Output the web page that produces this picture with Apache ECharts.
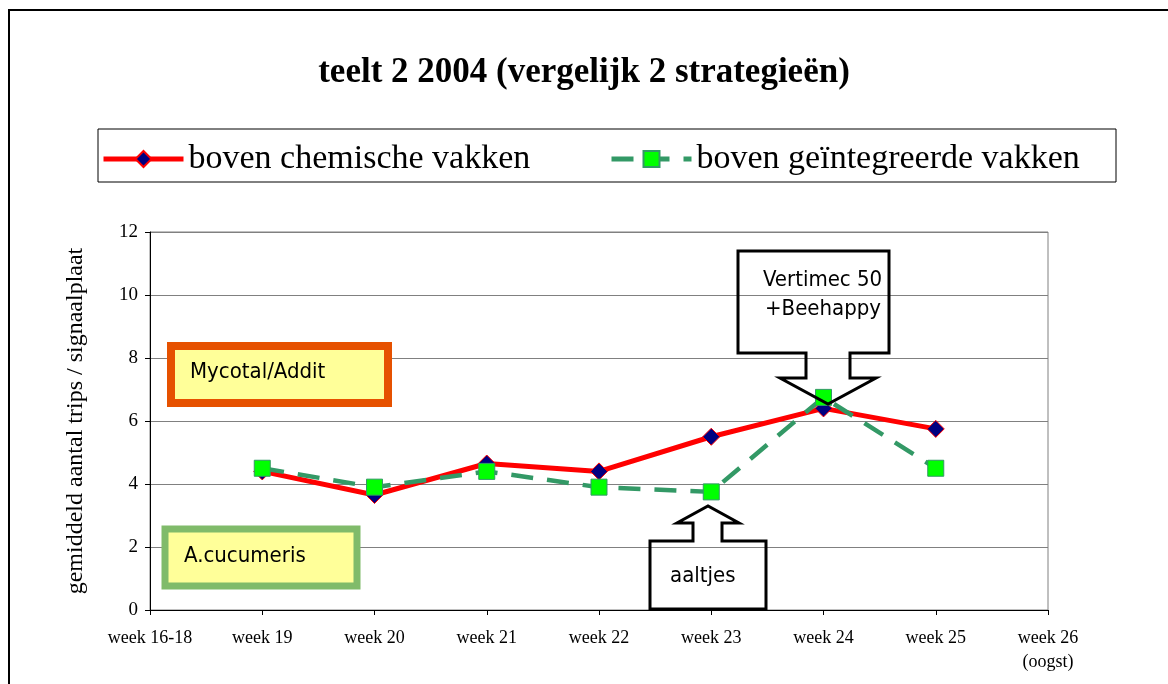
<!DOCTYPE html>
<html>
<head>
<meta charset="utf-8">
<script src="https://cdn.jsdelivr.net/npm/echarts@6/dist/echarts.min.js"></script>
<style>
  html, body { margin: 0; padding: 0; background: #fff; }
  #chart { width: 1168px; height: 684px; }
</style>
</head>
<body>
<div id="chart"></div>
<script>
const categories = ['week 16-18', 'week 19', 'week 20', 'week 21', 'week 22', 'week 23', 'week 24', 'week 25', 'week 26\n(oogst)'];
const chemisch = [null, 4.4, 3.65, 4.65, 4.4, 5.5, 6.4, 5.75, null];
const geintegreerd = [null, 4.5, 3.9, 4.4, 3.9, 3.75, 6.75, 4.5, null];
const yTicks = { min: 0, max: 12, interval: 2 };

const serif = "'Liberation Serif', 'Times New Roman', serif";
const narrow = "'DejaVu Sans Condensed', 'Liberation Sans Narrow', 'Liberation Sans', sans-serif";

const chart = echarts.init(document.getElementById('chart'));

const option = {
  backgroundColor: '#fff',
  animation: false,
  title: {
    text: 'teelt 2 2004 (vergelijk 2 strategieën)',
    left: 'center',
    top: 50,
    textStyle: { fontFamily: serif, fontWeight: 'bold', fontSize: 35, color: '#000' }
  },
  legend: [
    {
      data: ['boven chemische vakken'],
      left: 96, top: 137,
      itemWidth: 80, itemHeight: 20,
      lineStyle: { width: 5 },
      textStyle: { fontFamily: serif, fontSize: 34, color: '#000' }
    },
    {
      data: ['boven geïntegreerde vakken'],
      left: 604, top: 137,
      itemWidth: 80, itemHeight: 20,
      lineStyle: { width: 5 },
      textStyle: { fontFamily: serif, fontSize: 34, color: '#000' }
    }
  ],
  grid: {
    left: 150, top: 232, width: 898, height: 378,
    show: true, borderColor: '#808080', borderWidth: 1
  },
  xAxis: {
    type: 'category',
    data: categories,
    boundaryGap: false,
    axisLine: { lineStyle: { color: '#000', width: 1 } },
    axisTick: { alignWithLabel: true, length: 5, lineStyle: { color: '#000' } },
    axisLabel: { fontFamily: serif, fontSize: 18, color: '#000', margin: 16, lineHeight: 24, interval: 0 }
  },
  yAxis: {
    type: 'value',
    min: yTicks.min, max: yTicks.max, interval: yTicks.interval,
    name: 'gemiddeld aantal trips / signaalplaat',
    nameLocation: 'middle',
    nameGap: 62,
    nameTextStyle: { fontFamily: serif, fontSize: 24, color: '#000' },
    axisLine: { show: true, lineStyle: { color: '#000', width: 1 } },
    axisTick: { show: true, length: 5, lineStyle: { color: '#000' } },
    axisLabel: { fontFamily: serif, fontSize: 19, color: '#000', margin: 12 },
    splitLine: { lineStyle: { color: '#808080', width: 1 } }
  },
  series: [
    {
      name: 'boven chemische vakken',
      type: 'line',
      data: chemisch,
      symbol: 'diamond',
      symbolSize: 17,
      lineStyle: { color: '#ff0000', width: 5 },
      itemStyle: { color: '#000080', borderColor: '#ff0000', borderWidth: 1 },
      z: 3
    },
    {
      name: 'boven geïntegreerde vakken',
      type: 'line',
      data: geintegreerd,
      symbol: 'rect',
      symbolSize: 16,
      lineStyle: { color: '#339966', width: 4.5, type: [22, 14] },
      itemStyle: { color: '#00ff00', borderColor: '#339966', borderWidth: 1 },
      z: 4
    }
  ],
  graphic: [
    // outer frame
    { type: 'polyline', z: 100, shape: { points: [[9, 700], [9, 10], [1175, 10]] }, style: { stroke: '#000', lineWidth: 2, fill: null } },
    // legend border
    { type: 'rect', z: 100, shape: { x: 98, y: 129, width: 1018, height: 53 }, style: { stroke: '#000', lineWidth: 1, fill: null } },
    // Mycotal/Addit box
    { type: 'rect', z: 100, shape: { x: 171, y: 346, width: 217, height: 57 }, style: { fill: '#ffff99', stroke: '#e65100', lineWidth: 8 } },
    { type: 'text', z: 101, left: 190, top: 361, style: { text: 'Mycotal/Addit', font: "22px " + narrow, fill: '#000' } },
    // A.cucumeris box
    { type: 'rect', z: 100, shape: { x: 165, y: 529, width: 192, height: 57 }, style: { fill: '#ffff99', stroke: '#80bb6a', lineWidth: 7 } },
    { type: 'text', z: 101, left: 184, top: 545, style: { text: 'A.cucumeris', font: "22px " + narrow, fill: '#000' } },
    // Vertimec callout
    {
      type: 'polygon', z: 100,
      shape: { points: [[738, 251], [889, 251], [889, 353], [850, 353], [850, 378], [876, 378], [828, 404], [780, 378], [806, 378], [806, 353], [738, 353]] },
      style: { fill: null, stroke: '#000', lineWidth: 3 }
    },
    { type: 'text', z: 101, left: 763, top: 269, style: { text: 'Vertimec 50', font: "22px " + narrow, fill: '#000' } },
    { type: 'text', z: 101, left: 765, top: 298, style: { text: '+Beehappy', font: "22px " + narrow, fill: '#000' } },
    // aaltjes callout
    {
      type: 'polygon', z: 100,
      shape: { points: [[650, 541], [693, 541], [693, 523], [677, 523], [708, 506], [739, 523], [722, 523], [722, 541], [766, 541], [766, 609], [650, 609]] },
      style: { fill: null, stroke: '#000', lineWidth: 3 }
    },
    { type: 'text', z: 101, left: 670, top: 565, style: { text: 'aaltjes', font: "22px " + narrow, fill: '#000' } }
  ]
};

chart.setOption(option);
</script>
</body>
</html>
